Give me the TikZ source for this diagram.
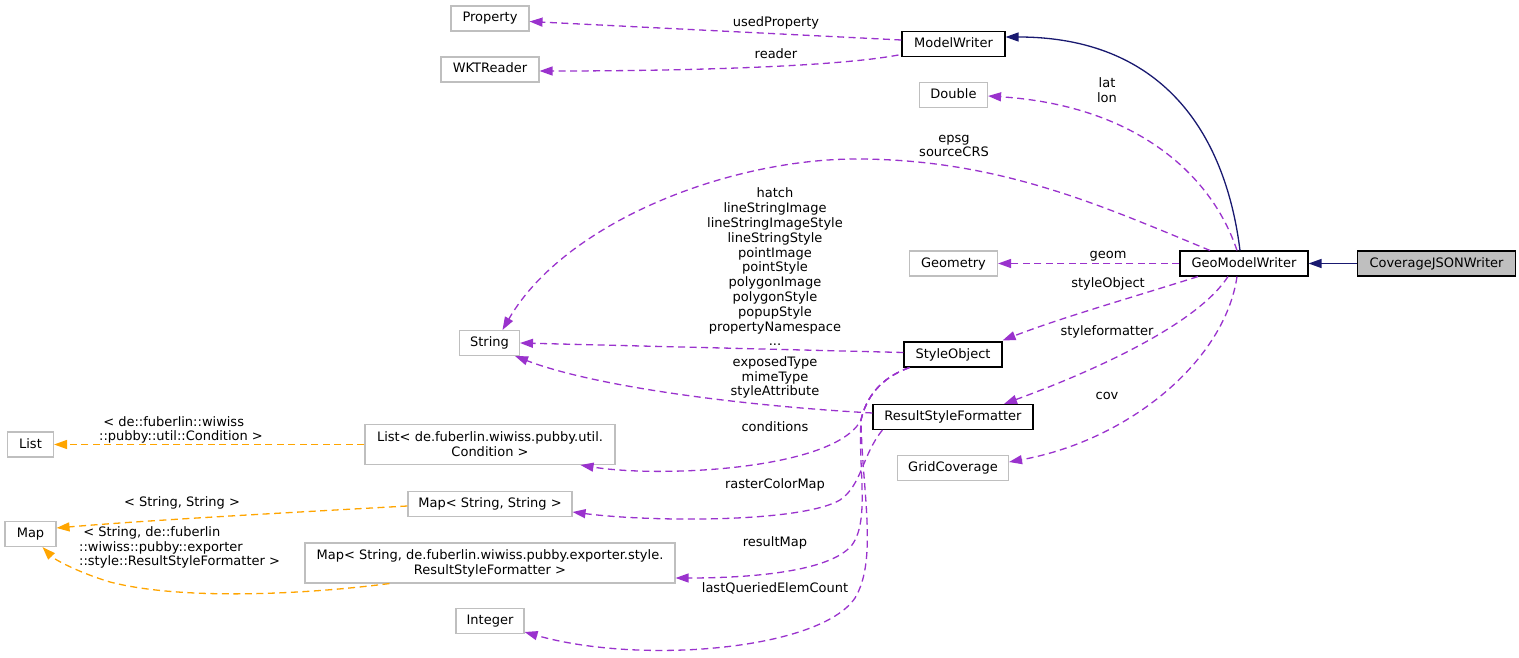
\documentclass[tikz,border=0pt]{standalone}
\usepackage{fontspec}
\setmainfont{DejaVu Sans}
\usetikzlibrary{arrows.meta,calc}
\definecolor{edgepurple}{HTML}{9A32CD}
\definecolor{edgeorange}{HTML}{FFA500}
\definecolor{edgenavy}{HTML}{191970}
\definecolor{boxgray}{HTML}{BFBFBF}
\begin{document}
\begin{tikzpicture}[x=1pt,y=-1pt,
  base/.style={draw=black, line width=1.1pt, rectangle, inner xsep=4pt, inner ysep=0pt,
    font=\fontsize{13}{15}\selectfont, align=center},
  onel/.style={minimum height=25pt, text height=9.5pt, text depth=2.5pt},
  twol/.style={minimum height=40pt},
  doc/.style={base, draw=black},
  ext/.style={base, draw=boxgray},
  cur/.style={base, draw=black, fill=boxgray},
  lbl/.style={font=\fontsize{13}{14.8}\selectfont, align=center, inner sep=0pt},
  lbll/.style={font=\fontsize{13}{14.6}\selectfont, align=left, inner sep=0pt},
  usage/.style={draw=edgepurple, line width=1.3pt, dash pattern=on 7pt off 4.5pt,
    -{Triangle[length=13pt,width=9pt]}},
  tmpl/.style={draw=edgeorange, line width=1.3pt, dash pattern=on 7pt off 4.5pt,
    -{Triangle[length=13pt,width=9pt]}},
  inherit/.style={draw=edgenavy, line width=1.3pt, -{Triangle[length=13pt,width=9pt]}}
]
\useasboundingbox (0,0) rectangle (1519,658);

% nodes
\node[ext,onel,minimum width=78pt]  (Property)     at (490,18.5)  {Property};
\node[ext,onel,minimum width=98pt]  (WKTReader)    at (490,69.5)  {WKTReader};
\node[doc,onel,minimum width=103pt] (ModelWriter)  at (953.5,44)  {ModelWriter};
\node[ext,onel,minimum width=68pt]  (Double)       at (953.5,95)  {Double};
\node[doc,onel,minimum width=128pt] (GMW)          at (1244,263.5)  {GeoModelWriter};
\node[cur,onel,minimum width=158pt] (CJW)          at (1436.5,263.5) {CoverageJSONWriter};
\node[ext,onel,minimum width=88pt]  (Geometry)     at (953.5,263.5) {Geometry};
\node[ext,onel,minimum width=60pt]  (String)       at (489.5,343) {String};
\node[doc,onel,minimum width=98pt]  (StyleObject)  at (953,354.5) {StyleObject};
\node[doc,onel,minimum width=160pt] (RSF)          at (953,417)   {ResultStyleFormatter};
\node[ext,onel,minimum width=111pt] (GridCoverage) at (953,468)   {GridCoverage};
\node[ext,onel,minimum width=46pt]  (List)         at (30.5,444.5)  {List};
\node[ext,twol,minimum width=250pt] (ListC)        at (490,444.5)   {List< de.fuberlin.wiwiss.pubby.util.\\Condition >};
\node[ext,onel,minimum width=164pt] (MapSS)        at (490,504)   {Map< String, String >};
\node[ext,onel,minimum width=51pt]  (Map)          at (30.5,534)  {Map};
\node[ext,twol,minimum width=370pt] (MapSR)        at (490,563)   {Map< String, de.fuberlin.wiwiss.pubby.exporter.style.\\ResultStyleFormatter >};
\node[ext,onel,minimum width=68pt]  (Integer)      at (490,621)   {Integer};

% inheritance
\draw[inherit] (CJW.west) -- (GMW.east);
\draw[inherit] ($(GMW.north)+(-4,0)$) .. controls (1225,130) and (1160,37) .. ($(ModelWriter.east)+(0,-7)$);

% usage edges
\draw[usage] ($(ModelWriter.west)+(0,-4)$) -- ($(Property.east)+(0,3)$);
\draw[usage] ($(ModelWriter.west)+(-3,11)$) .. controls (840,66) and (700,71) .. ($(WKTReader.east)+(0,1.5)$);
\draw[usage] ($(GMW.north)+(-7,0)$) .. controls (1210,170) and (1130,105) .. ($(Double.east)+(0,1)$);
\draw[usage] ($(GMW.north)+(-34,0)$) .. controls (1100,205) and (1000,160) .. (860,159)
  .. controls (730,158) and (565,222) .. ($(String.north)+(13,0)$);
\draw[usage] (GMW.west) -- (Geometry.east);
\draw[usage] ($(GMW.south)+(-46,0)$) .. controls (1140,295) and (1060,318) .. ($(StyleObject.north east)+(0,-1)$);
\draw[usage] ($(GMW.south)+(-16,0)$) .. controls (1200,320) and (1110,365) .. ($(RSF.north)+(51,0)$);
\draw[usage] ($(GMW.south)+(-7,0)$) .. controls (1225,360) and (1130,440) .. ($(GridCoverage.east)+(0,-6)$);
\draw[usage] ($(StyleObject.west)+(0,-2)$) -- (String.east);
\draw[usage] ($(RSF.west)+(0,-4)$) .. controls (730,405) and (590,385) .. ($(String.south east)+(-5,0)$);
\draw[usage] ($(StyleObject.south west)+(6,0)$) .. controls (880,378) and (866,398) .. (861,420)
  .. controls (835,470) and (660,478) .. ($(ListC.south east)+(-35,0)$);
\draw[usage] ($(RSF.south west)+(10,0)$) .. controls (862,455) and (862,485) .. (840,500)
  .. controls (800,523) and (650,522) .. ($(MapSS.east)+(0,8)$);
\draw[usage] ($(StyleObject.south west)+(6,0)$) .. controls (880,378) and (866,398) .. (861,420)
  .. controls (858,470) and (870,520) .. (852,545) .. controls (830,572) and (750,578) .. ($(MapSR.east)+(0,15)$);
\draw[usage] ($(StyleObject.south west)+(6,0)$) .. controls (880,378) and (866,398) .. (861,420)
  .. controls (862,490) and (878,560) .. (855,598) .. controls (820,650) and (640,665) .. ($(Integer.east)+(0,11)$);

% template edges
\draw[tmpl] (ListC.west) -- (List.east);
\draw[tmpl] ($(MapSS.west)+(0,2)$) .. controls (300,512) and (150,520) .. ($(Map.east)+(0,-6)$);
\draw[tmpl] ($(MapSR.south west)+(85,0)$) .. controls (300,595) and (180,600) .. (110,582)
  .. controls (80,573) and (55,560) .. ($(Map.south)+(12,0)$);

% labels
\node[lbl] (lUsedProperty) at (776,23) {usedProperty};
\node[lbl] (lReader) at (776,54) {reader};
\node[lbl] (lLatLon) at (1107,90) {lat\\lon};
\node[lbl] (lEpsg) at (954,146) {epsg\\sourceCRS};
\node[lbl] (lHatch) at (775,267) {hatch\\lineStringImage\\lineStringImageStyle\\lineStringStyle\\pointImage\\pointStyle\\polygonImage\\polygonStyle\\popupStyle\\propertyNamespace\\...};
\node[lbl] (lExposed) at (775,377.5) {exposedType\\mimeType\\styleAttribute};
\node[lbl] (lConditions) at (775,427) {conditions};
\node[lbl] (lRaster) at (775,485) {rasterColorMap};
\node[lbl] (lResultMap) at (775,543) {resultMap};
\node[lbl] (lLastQ) at (775,588) {lastQueriedElemCount};
\node[lbl] (lGeom) at (1108,256) {geom};
\node[lbl] (lStyleObject) at (1108,284) {styleObject};
\node[lbl] (lStyleFormatter) at (1107,332) {styleformatter};
\node[lbl] (lCov) at (1107,396) {cov};
\node[lbll, anchor=west] (lCond) at (99,430) {~< de::fuberlin::wiwiss\\::pubby::util::Condition >};
\node[lbl] (lSS) at (182,503) {< String, String >};
\node[lbll, anchor=west] (lSR) at (79,547.5) {~< String, de::fuberlin\\::wiwiss::pubby::exporter\\::style::ResultStyleFormatter >};
\end{tikzpicture}
\end{document}
